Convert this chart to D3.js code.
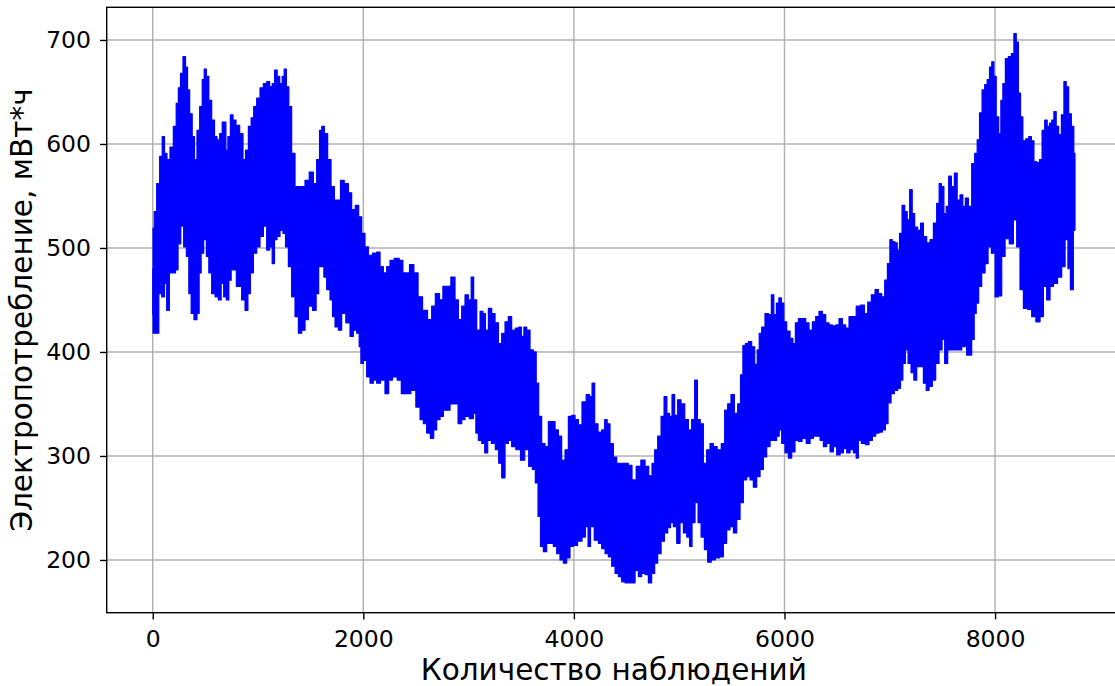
<!DOCTYPE html>
<html>
<head>
<meta charset="utf-8">
<script src="https://cdn.jsdelivr.net/npm/d3@7"></script>
<style>
  html, body { margin: 0; padding: 0; background: #fff; overflow: hidden; }
  svg { display: block; }
</style>
</head>
<body>
<div class="line-chart"></div>
<script>
// hourly load, drawn as its upper / lower envelope [observation, value]
const upperEnvelope = [
  [0,480],[6,519],[22,535],[53,562],[79,588],[101,607],[123,591],[148,585],[180,597],[212,617],[234,639],[253,654],[275,668],[300,684],[323,674],[338,652],[364,629],[386,607],[408,585],[433,613],[459,636],[481,662],[497,672],[522,665],[544,642],[576,623],[598,607],[623,604],[649,610],[671,621],[687,621],[703,594],[725,607],[750,628],[775,623],[807,618],[845,610],[870,585],[893,594],[924,617],[946,625],[972,636],[1003,644],[1035,654],[1067,658],[1098,660],[1124,655],[1145,658],[1171,671],[1193,665],[1219,658],[1240,665],[1257,672],[1282,655],[1304,636],[1335,591],[1368,559],
  [1399,559],[1430,559],[1463,565],[1510,573],[1541,562],[1573,585],[1596,613],[1615,617],[1646,610],[1677,585],[1710,559],[1741,546],[1772,546],[1795,565],[1843,562],[1874,553],[1905,537],[1943,541],[1969,530],[2000,514],[2032,501],[2064,493],[2111,495],[2143,496],[2175,482],[2206,476],[2238,482],[2270,488],[2317,490],[2365,488],[2387,476],[2418,476],[2460,484],[2501,476],[2539,453],[2586,440],[2634,431],[2665,444],[2703,456],[2745,450],[2767,463],[2808,463],[2855,472],[2887,450],
  [2919,431],[2950,444],[2982,455],[3014,450],[3035,472],[3061,450],[3093,421],[3125,439],[3147,437],[3172,421],[3204,442],[3235,437],[3267,428],[3299,408],[3330,418],[3362,429],[3393,434],[3425,421],[3463,423],[3488,424],[3514,415],[3536,424],[3567,421],[3600,402],[3631,400],[3653,370],[3678,338],[3710,312],[3742,309],[3773,333],[3805,333],[3837,325],[3868,319],[3900,296],[3932,306],[3963,338],[3995,339],[4027,335],[4058,330],[4096,352],[4137,359],[4160,357],[4185,370],[4210,331],[4248,323],[4280,325],[4305,335],[4327,331],[4359,312],[4391,299],[4422,293],[4454,293],[4502,293],
  [4533,291],[4571,277],[4612,290],[4660,296],[4692,290],[4730,281],[4754,293],[4780,306],[4812,319],[4844,338],[4869,357],[4897,341],[4920,338],[4944,359],[4970,339],[5001,354],[5034,350],[5072,335],[5103,325],[5134,335],[5160,373],[5186,335],[5214,331],[5245,293],[5277,306],[5309,312],[5340,309],[5381,306],[5419,312],[5445,344],[5476,350],[5508,359],[5540,341],[5571,350],[5594,378],[5616,406],[5641,408],[5673,410],[5704,405],[5730,388],[5752,402],[5768,418],[5799,424],[5831,437],[5863,436],[5888,455],[5910,436],[5936,447],[5958,452],
  [5983,447],[6005,429],[6037,420],[6069,413],[6091,408],[6116,428],[6148,432],[6186,432],[6217,428],[6249,421],[6281,429],[6312,434],[6344,439],[6376,436],[6407,428],[6439,426],[6471,425],[6502,426],[6534,432],[6566,426],[6597,423],[6629,434],[6661,434],[6702,444],[6743,445],[6775,437],[6806,448],[6844,455],[6876,460],[6908,456],[6939,453],[6965,469],[6990,485],[7012,508],[7034,506],[7060,505],[7081,498],[7104,514],[7129,541],[7155,535],[7176,527],[7202,556],[7224,533],[7249,520],[7281,517],[7304,524],[7335,511],[7366,505],[7399,508],[7430,524],[7461,543],
  [7477,562],[7503,559],[7525,533],[7547,540],[7572,569],[7598,559],[7629,572],[7651,546],[7683,551],[7705,540],[7731,548],[7762,540],[7794,581],[7819,591],[7841,604],[7864,630],[7889,652],[7914,657],[7936,662],[7959,674],[7978,679],[8000,665],[8022,626],[8047,610],[8063,642],[8085,658],[8111,682],[8142,684],[8168,687],[8190,706],[8212,698],[8231,649],[8253,626],[8275,603],[8307,605],[8332,607],[8358,603],[8380,583],[8411,582],[8434,585],[8459,613],[8484,623],[8506,617],[8529,620],[8548,623],[8570,631],[8591,617],[8617,609],[8643,628],[8665,660],[8686,655],[8712,629],[8737,617],[8759,591]
];

const lowerEnvelope = [
  [0,436],[6,418],[47,418],[69,456],[101,453],[123,466],[142,440],[174,476],[205,476],[228,479],[253,504],[281,521],[307,501],[332,492],[354,456],[376,437],[408,431],[433,437],[449,476],[471,495],[497,508],[522,492],[544,476],[576,456],[608,453],[639,450],[661,466],[687,453],[712,450],[734,469],[756,479],[782,479],[807,463],[829,463],[861,450],[893,440],[915,456],[940,476],[972,495],[1003,501],[1035,511],[1067,521],[1098,498],[1124,501],[1145,485],[1168,508],[1193,511],[1225,517],[1250,514],[1273,501],[1304,482],[1335,453],[1368,434],
  [1399,418],[1430,421],[1463,431],[1494,444],[1541,440],[1563,456],[1589,482],[1615,482],[1636,472],[1668,460],[1700,450],[1715,434],[1748,424],[1779,421],[1810,437],[1858,428],[1890,415],[1921,421],[1953,418],[1969,405],[1985,389],[2016,392],[2048,376],[2080,370],[2111,373],[2143,370],[2184,373],[2228,360],[2254,373],[2301,376],[2342,373],[2380,360],[2428,360],[2475,363],[2523,347],[2555,335],[2586,331],[2618,322],[2656,317],[2681,325],[2713,335],[2745,338],[2776,344],[2808,344],[2840,350],[2881,350],
  [2919,331],[2950,335],[2982,338],[3030,336],[3061,341],[3077,322],[3109,315],[3140,312],[3166,303],[3197,315],[3235,312],[3273,306],[3299,293],[3330,279],[3362,312],[3393,315],[3425,309],[3472,306],[3514,296],[3552,306],[3590,290],[3621,287],[3647,274],[3672,242],[3694,213],[3726,208],[3757,216],[3789,216],[3821,213],[3852,206],[3884,200],[3916,197],[3947,202],[3979,213],[4011,214],[4058,218],[4096,222],[4122,232],[4147,213],[4169,232],[4217,219],[4248,216],[4280,211],[4312,206],[4343,203],[4375,194],[4407,187],[4438,184],[4470,179],[4502,178],
  [4533,178],[4565,178],[4597,190],[4628,184],[4660,187],[4692,186],[4723,178],[4754,187],[4780,197],[4812,206],[4844,218],[4875,226],[4907,231],[4929,236],[4961,232],[4992,216],[5024,236],[5056,226],[5087,222],[5110,213],[5134,236],[5167,255],[5192,236],[5224,222],[5255,210],[5286,198],[5324,200],[5362,202],[5404,203],[5435,216],[5467,229],[5499,232],[5531,226],[5562,239],[5594,255],[5625,277],[5657,280],[5689,277],[5720,270],[5752,280],[5784,287],[5815,299],[5847,309],[5879,315],[5910,315],[5942,319],[5958,325],
  [5989,312],[6021,303],[6053,298],[6084,304],[6116,315],[6148,314],[6186,317],[6227,312],[6259,317],[6290,319],[6322,319],[6354,315],[6385,309],[6417,312],[6449,304],[6480,309],[6512,301],[6544,303],[6575,307],[6607,303],[6639,306],[6670,303],[6692,298],[6711,315],[6749,312],[6787,311],[6819,315],[6851,319],[6882,322],[6914,323],[6946,325],[6971,331],[6996,351],[7028,360],[7060,363],[7091,365],[7113,373],[7136,389],[7161,402],[7186,389],[7218,380],[7240,373],[7272,386],[7304,386],[7335,370],[7357,363],[7389,367],[7420,373],[7452,389],[7484,402],[7509,412],[7534,389],[7566,402],
  [7636,402],[7667,402],[7699,405],[7762,397],[7794,412],[7810,437],[7832,447],[7857,463],[7889,476],[7921,485],[7946,501],[7984,495],[8016,453],[8047,454],[8079,492],[8111,509],[8158,504],[8190,527],[8221,501],[8253,460],[8285,442],[8332,441],[8364,434],[8411,429],[8443,434],[8475,463],[8506,450],[8538,463],[8570,466],[8617,472],[8649,482],[8681,508],[8703,480],[8728,460],[8759,517]
];

const xTicks = [0, 2000, 4000, 6000, 8000];
const yTicks = [200, 300, 400, 500, 600, 700];
const xLabel = 'Количество наблюдений';
const yLabel = 'Электропотребление, мВт*ч';

const margin = { top: 7.3, left: 106.7 };
const width = 1121 - margin.left;
const height = 612.7 - margin.top;
const font = '"DejaVu Sans", sans-serif';

const svg = d3
  .select('.line-chart')
  .append('svg')
  .attr('width', 1115)
  .attr('height', 686);

const g = svg
  .append('g')
  .attr('transform', 'translate(' + margin.left + ',' + margin.top + ')');

const x = d3.scaleLinear().domain([-437, 9196]).range([0, width]);
const y = d3.scaleLinear().domain([149.3, 731.4]).range([height, 0]);

// grid
g.append('g')
  .selectAll('line')
  .data(xTicks)
  .join('line')
  .attr('x1', (d) => x(d))
  .attr('x2', (d) => x(d))
  .attr('y1', 0)
  .attr('y2', height)
  .attr('stroke', '#b0b0b0')
  .attr('stroke-width', 1.4);
g.append('g')
  .selectAll('line')
  .data(yTicks)
  .join('line')
  .attr('x1', 0)
  .attr('x2', width)
  .attr('y1', (d) => y(d))
  .attr('y2', (d) => y(d))
  .attr('stroke', '#b0b0b0')
  .attr('stroke-width', 1.4);

// the dense series: upper edge forward, lower edge back
const outline = upperEnvelope.concat(lowerEnvelope.slice().reverse());
const line = d3
  .line()
  .x((d) => x(d[0]))
  .y((d) => y(d[1]))
  .curve(d3.curveStep);

g.append('path')
  .attr('d', line(outline) + 'Z')
  .attr('fill', '#0000ff')
  .attr('stroke', '#0000ff')
  .attr('stroke-width', 1.2)
  .attr('stroke-linejoin', 'round');

// spines
g.append('rect')
  .attr('x', 0)
  .attr('y', 0)
  .attr('width', width)
  .attr('height', height)
  .attr('fill', 'none')
  .attr('stroke', '#000')
  .attr('stroke-width', 1.4);

// axes
const xAxis = g
  .append('g')
  .attr('transform', 'translate(0,' + height + ')')
  .call(d3.axisBottom(x).tickValues(xTicks).tickFormat(d3.format('d')).tickSize(6.7).tickPadding(10.6));
const yAxis = g
  .append('g')
  .call(d3.axisLeft(y).tickValues(yTicks).tickFormat(d3.format('d')).tickSize(6.7).tickPadding(9));

[xAxis, yAxis].forEach((a) => {
  a.select('.domain').remove();
  a.selectAll('.tick line').attr('stroke', '#000').attr('stroke-width', 1.4);
  a.selectAll('.tick text')
    .attr('fill', '#000')
    .style('font-family', font)
    .style('font-size', '23.5px');
});

svg
  .append('text')
  .attr('x', margin.left + width / 2)
  .attr('y', 679.5)
  .attr('text-anchor', 'middle')
  .style('font-family', font)
  .style('font-size', '29.5px')
  .attr('fill', '#000')
  .text(xLabel);

svg
  .append('text')
  .attr('transform', 'translate(32,' + (margin.top + height / 2) + ') rotate(-90)')
  .attr('text-anchor', 'middle')
  .style('font-family', font)
  .style('font-size', '29.5px')
  .attr('fill', '#000')
  .text(yLabel);
</script>
</body>
</html>
